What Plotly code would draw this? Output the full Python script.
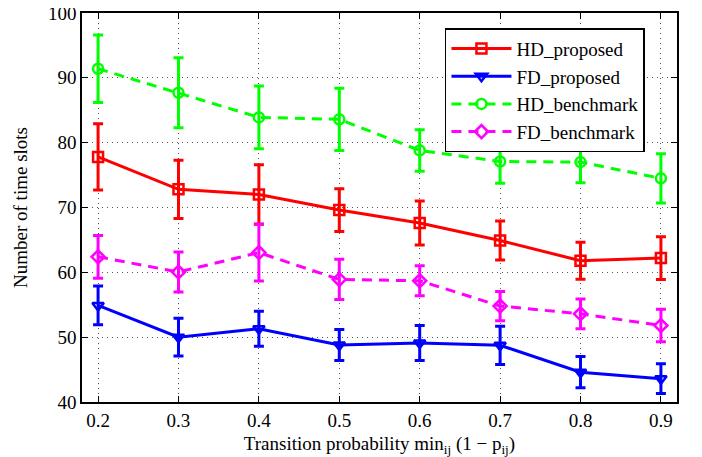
import plotly.graph_objects as go

x_vals = [0.2, 0.3, 0.4, 0.5, 0.6, 0.7, 0.8, 0.9]

hd_proposed = [77.8, 72.8, 72.0, 69.6, 67.6, 64.9, 61.8, 62.2]
hd_proposed_err = [5.1, 4.5, 4.6, 3.3, 3.4, 3.0, 2.85, 3.3]

fd_proposed = [54.9, 50.0, 51.3, 48.8, 49.1, 48.75, 44.6, 43.6]
fd_proposed_err = [3.0, 2.9, 2.7, 2.4, 2.7, 2.95, 2.4, 2.3]

hd_benchmark = [91.4, 87.7, 83.9, 83.6, 78.8, 77.1, 77.0, 74.5]
hd_benchmark_err = [5.2, 5.4, 4.85, 4.8, 3.2, 3.35, 3.2, 3.8]

fd_benchmark = [62.4, 60.05, 63.05, 58.9, 58.7, 54.8, 53.6, 51.8]
fd_benchmark_err = [3.3, 3.1, 4.4, 3.1, 2.3, 2.25, 2.3, 2.5]

series = [
    ("HD_proposed", hd_proposed, hd_proposed_err, "#ff0000", "solid", "square-open"),
    ("FD_proposed", fd_proposed, fd_proposed_err, "#0000ff", "solid", "triangle-down-open"),
    ("HD_benchmark", hd_benchmark, hd_benchmark_err, "#00ff00", "10px,7px", "circle-open"),
    ("FD_benchmark", fd_benchmark, fd_benchmark_err, "#ff00ff", "10px,7px", "diamond-open"),
]

fig = go.Figure()
for name, y, err, color, dash, sym in series:
    fig.add_trace(go.Scatter(
        x=x_vals, y=y, name=name, mode="lines+markers",
        line=dict(color=color, width=3, dash=dash),
        marker=dict(symbol=sym, size=10, color=color, line=dict(color=color, width=2.5)),
        error_y=dict(type="data", array=err, visible=True, color=color, thickness=3, width=5),
    ))

font_family = "Liberation Serif, Times New Roman, serif"
fig.update_layout(
    width=694, height=449,
    margin=dict(l=74, r=25, t=5, b=55),
    paper_bgcolor="white", plot_bgcolor="white",
    font=dict(family=font_family, size=19, color="black"),
    showlegend=True,
    legend=dict(
        x=0.61, y=0.961, xanchor="left", yanchor="top",
        bgcolor="white", bordercolor="black", borderwidth=1.5,
        font=dict(family=font_family, size=19),
        tracegroupgap=0, itemwidth=60,
    ),
    xaxis=dict(
        range=[0.18, 0.92], tickvals=x_vals, ticktext=[f"{v:.1f}" for v in x_vals],
        showgrid=True, gridcolor="#555555", griddash="1px,4px", gridwidth=1,
        showline=True, linecolor="black", linewidth=1.5, mirror="ticks",
        ticks="inside", ticklen=6, tickcolor="black", zeroline=False,
        automargin=False, ticklabeloverflow="allow",
        title=dict(text="Transition probability min<sub>ij</sub> (1 − p<sub>ij</sub>)",
                   font=dict(size=19)),
        tickfont=dict(size=19),
    ),
    yaxis=dict(
        range=[40, 100], dtick=10,
        showgrid=True, gridcolor="#555555", griddash="1px,4px", gridwidth=1,
        showline=True, linecolor="black", linewidth=1.5, mirror="ticks",
        ticks="inside", ticklen=6, tickcolor="black", zeroline=False,
        automargin=False, ticklabeloverflow="allow",
        title=dict(text="Number of time slots", font=dict(size=19)),
        tickfont=dict(size=19),
    ),
)

fig.write_html("out.html")
